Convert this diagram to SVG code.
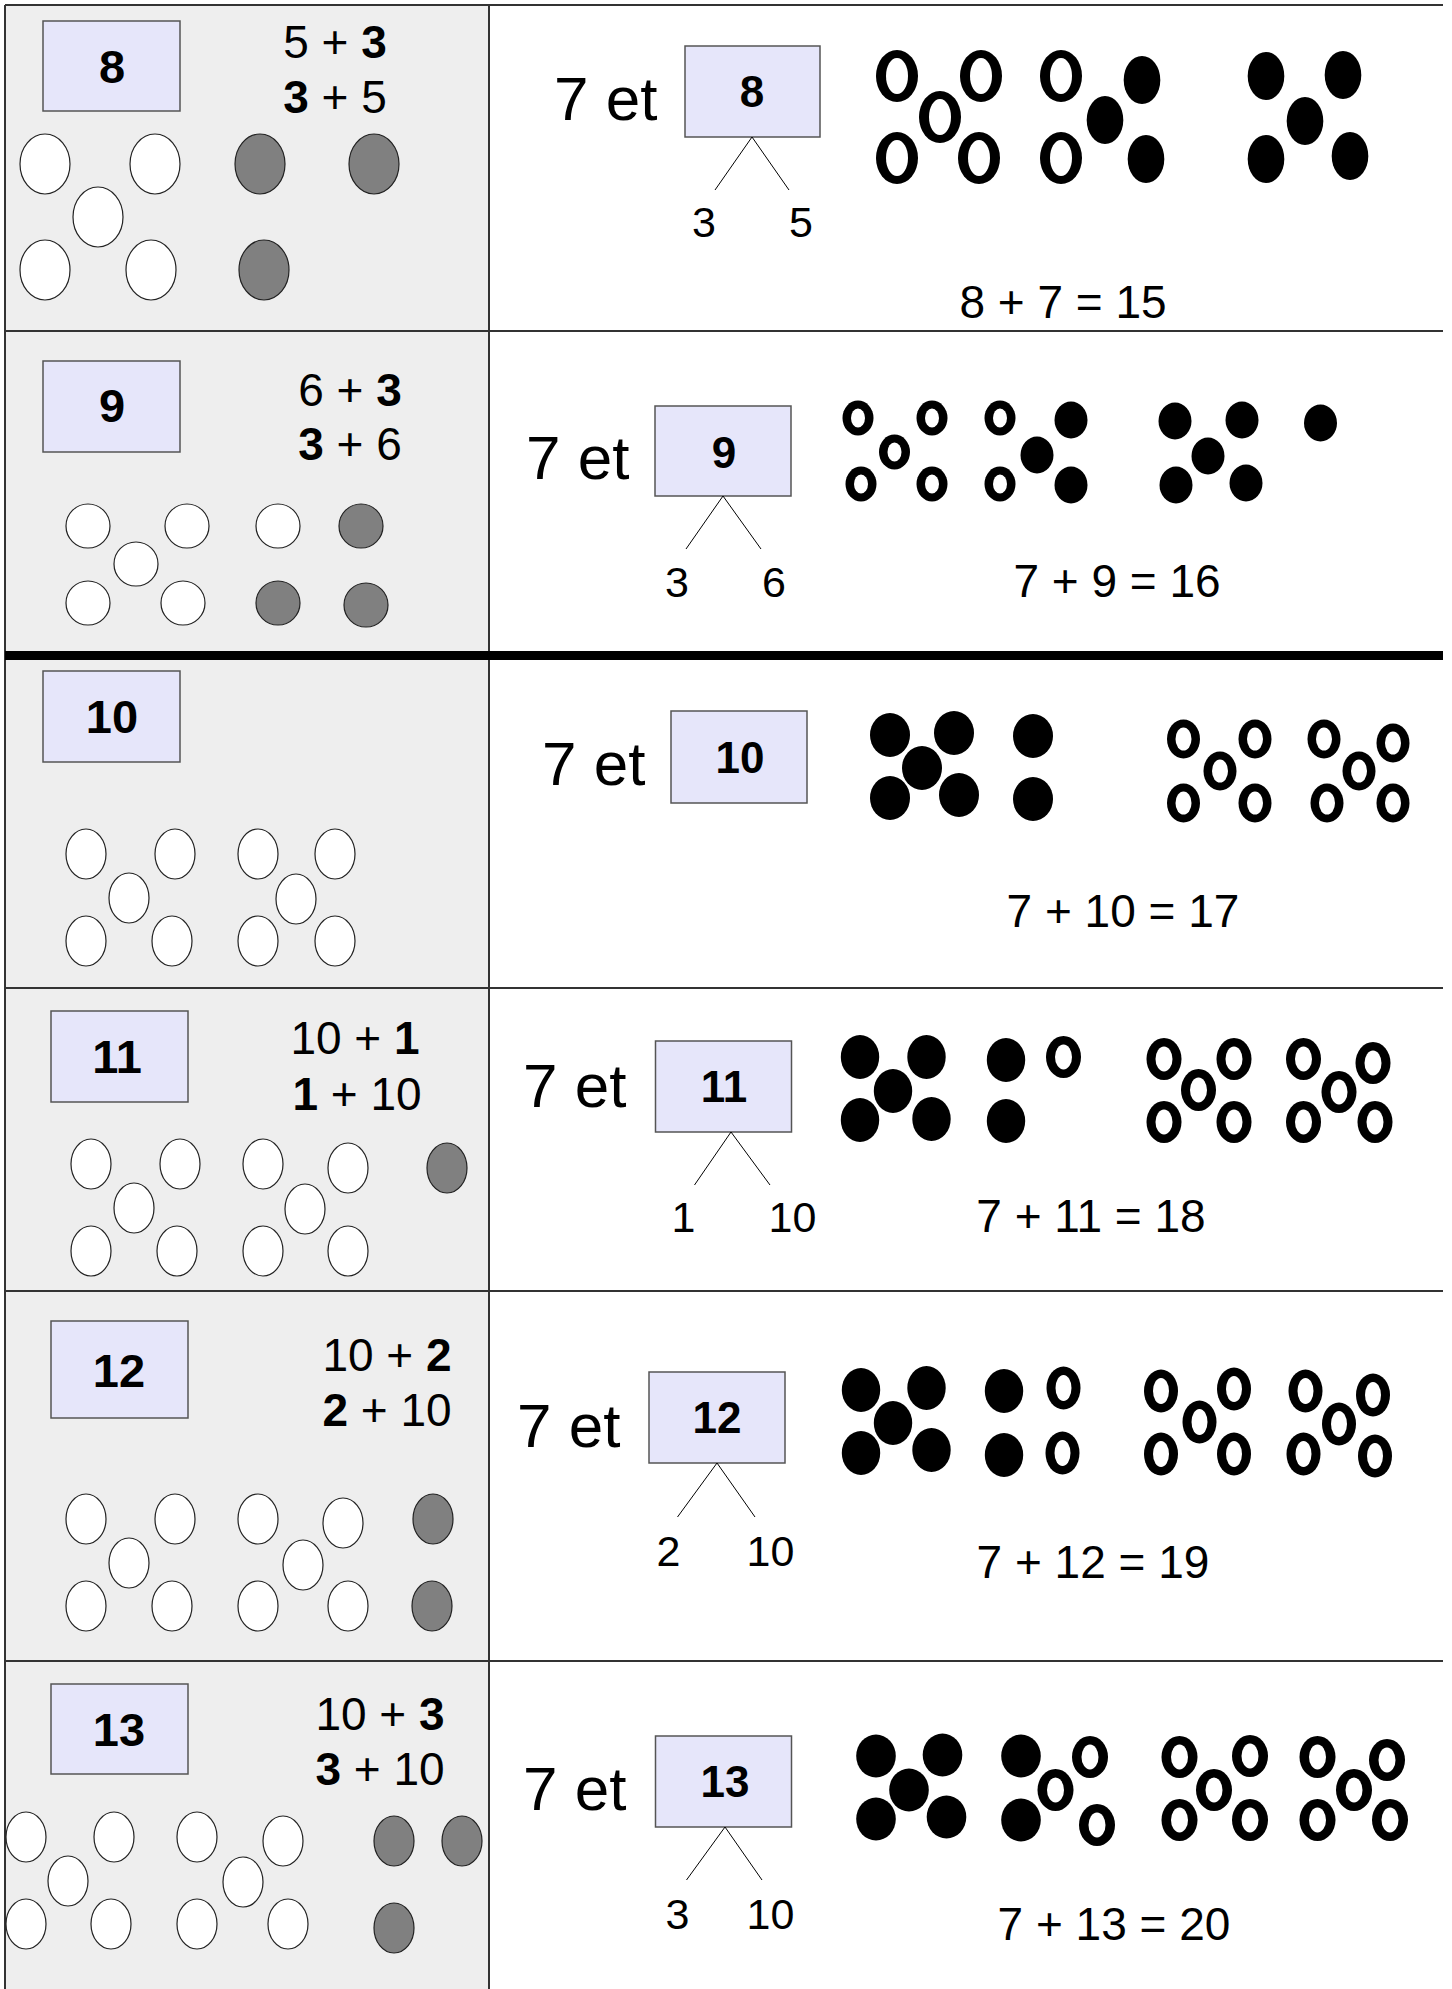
<svg xmlns="http://www.w3.org/2000/svg" width="1452" height="1989" viewBox="0 0 1452 1989">
<style>
.t{font-family:"Liberation Sans",Arial,sans-serif;fill:#000}
.bn{font-weight:bold;font-size:47px;text-anchor:middle}
.rn{font-weight:bold;font-size:44px;text-anchor:middle}
.sum{font-size:46px;text-anchor:middle}
.et{font-size:62px}
.tr{font-size:43px;text-anchor:middle}
.eq{font-size:46px;text-anchor:middle}
.b{font-weight:bold}
.box{fill:#e6e6fa;stroke:#555;stroke-width:1.5}
.w{fill:#fff;stroke:#222;stroke-width:1.2}
.g{fill:#808080;stroke:#222;stroke-width:1.2}
.k{fill:#000}
.h{fill:#fff}
.ln{stroke:#000;stroke-width:1;fill:none}
.grid{stroke:#333;stroke-width:2;fill:none}
</style>
<defs>
<g id="ring1"><ellipse class="k" rx="21" ry="26"/><ellipse class="h" rx="11" ry="18"/></g>
<g id="ring2"><ellipse class="k" rx="15.5" ry="17.5"/><ellipse class="h" rx="7" ry="9.5"/></g>
<g id="ring3"><ellipse class="k" rx="16.5" ry="19.5"/><ellipse class="h" rx="8" ry="11.5"/></g>
<g id="ring4"><ellipse class="k" rx="17.5" ry="21"/><ellipse class="h" rx="8.5" ry="12.5"/></g>
<g id="ring5"><ellipse class="k" rx="17" ry="21.5"/><ellipse class="h" rx="8" ry="13"/></g>
<g id="ring6"><ellipse class="k" rx="18" ry="21"/><ellipse class="h" rx="8.5" ry="12.5"/></g>
</defs>
<rect x="5" y="5" width="484" height="1984" fill="#eeeeee"/>
<g id="grid">
<line class="grid" x1="5" y1="5" x2="1443" y2="5"/>
<line class="grid" x1="5" y1="5" x2="5" y2="1989"/>
<line class="grid" x1="489" y1="5" x2="489" y2="1989"/>
<line class="grid" x1="5" y1="331" x2="1443" y2="331"/>
<rect x="5" y="651" width="1438" height="9" fill="#000"/>
<line class="grid" x1="5" y1="988" x2="1443" y2="988"/>
<line class="grid" x1="5" y1="1291" x2="1443" y2="1291"/>
<line class="grid" x1="5" y1="1661" x2="1443" y2="1661"/>
</g>

<!-- Row 1 -->
<g id="row1-left">
<rect class="box" x="43" y="21" width="137" height="90"/>
<text class="t bn" x="112" y="83">8</text>
<text class="t sum" x="335" y="58">5 + <tspan class="b">3</tspan></text>
<text class="t sum" x="335" y="113"><tspan class="b">3</tspan> + 5</text>
<ellipse class="w" cx="45" cy="164" rx="25" ry="30"/>
<ellipse class="w" cx="155" cy="164" rx="25" ry="30"/>
<ellipse class="w" cx="98" cy="217" rx="25" ry="30"/>
<ellipse class="w" cx="45" cy="270" rx="25" ry="30"/>
<ellipse class="w" cx="151" cy="270" rx="25" ry="30"/>
<ellipse class="g" cx="260" cy="164" rx="25" ry="30"/>
<ellipse class="g" cx="374" cy="164" rx="25" ry="30"/>
<ellipse class="g" cx="264" cy="270" rx="25" ry="30"/>
</g>
<g id="row1-right">
<text class="t et" x="554" y="120">7 et</text>
<rect class="box" x="685" y="46" width="135" height="91"/>
<text class="t rn" x="752" y="107">8</text>
<path class="ln" d="M752 137L715 190M752 137L789 190"/>
<text class="t tr" x="704" y="237">3</text>
<text class="t tr" x="801" y="237">5</text>
<text class="t eq" x="1063" y="318">8 + 7 = 15</text>
<use href="#ring1" x="897" y="76"/>
<use href="#ring1" x="981" y="76"/>
<use href="#ring1" x="940" y="117"/>
<use href="#ring1" x="897" y="158"/>
<use href="#ring1" x="979" y="158"/>
<use href="#ring1" x="1061" y="76"/>
<use href="#ring1" x="1061" y="158"/>
<g class="k">
<ellipse cx="1142" cy="80" rx="18.3" ry="24"/>
<ellipse cx="1105" cy="120" rx="18.3" ry="24"/>
<ellipse cx="1146" cy="159" rx="18.3" ry="24"/>
<ellipse cx="1266" cy="76" rx="18.3" ry="24"/>
<ellipse cx="1343" cy="75" rx="18.3" ry="24"/>
<ellipse cx="1305" cy="121" rx="18.3" ry="24"/>
<ellipse cx="1266" cy="159" rx="18.3" ry="24"/>
<ellipse cx="1350" cy="156" rx="18.3" ry="24"/>
</g>
</g>

<!-- Row 2 -->
<g id="row2-left">
<rect class="box" x="43" y="361" width="137" height="91"/>
<text class="t bn" x="112" y="422">9</text>
<text class="t sum" x="350" y="406">6 + <tspan class="b">3</tspan></text>
<text class="t sum" x="350" y="460"><tspan class="b">3</tspan> + 6</text>
<circle class="w" cx="88" cy="526" r="22"/>
<circle class="w" cx="187" cy="526" r="22"/>
<circle class="w" cx="136" cy="564" r="22"/>
<circle class="w" cx="88" cy="603" r="22"/>
<circle class="w" cx="183" cy="603" r="22"/>
<circle class="w" cx="278" cy="526" r="22"/>
<circle class="g" cx="361" cy="526" r="22"/>
<circle class="g" cx="278" cy="603" r="22"/>
<circle class="g" cx="366" cy="605" r="22"/>
</g>
<g id="row2-right">
<text class="t et" x="526" y="479">7 et</text>
<rect class="box" x="655" y="406" width="136" height="90"/>
<text class="t rn" x="724" y="468">9</text>
<path class="ln" d="M723 496L686 549M723 496L761 549"/>
<text class="t tr" x="677" y="597">3</text>
<text class="t tr" x="774" y="597">6</text>
<text class="t eq" x="1117" y="597">7 + 9 = 16</text>
<use href="#ring2" x="858" y="418"/>
<use href="#ring2" x="932" y="418"/>
<use href="#ring2" x="894.5" y="452"/>
<use href="#ring2" x="861" y="484"/>
<use href="#ring2" x="932" y="484"/>
<use href="#ring2" x="1000" y="418"/>
<use href="#ring2" x="1000" y="484"/>
<g class="k">
<ellipse cx="1071" cy="420" rx="16.5" ry="18.5"/>
<ellipse cx="1037" cy="455" rx="16.5" ry="18.5"/>
<ellipse cx="1071" cy="485" rx="16.5" ry="18.5"/>
<ellipse cx="1175" cy="421" rx="16.5" ry="18.5"/>
<ellipse cx="1242" cy="420" rx="16.5" ry="18.5"/>
<ellipse cx="1208" cy="456" rx="16.5" ry="18.5"/>
<ellipse cx="1176" cy="485" rx="16.5" ry="18.5"/>
<ellipse cx="1246" cy="483" rx="16.5" ry="18.5"/>
<ellipse cx="1320.5" cy="423" rx="16.5" ry="18.5"/>
</g>
</g>

<!-- Row 3 -->
<g id="row3-left">
<rect class="box" x="43" y="671" width="137" height="91"/>
<text class="t bn" x="112" y="733">10</text>
<g class="w">
<ellipse cx="86" cy="854" rx="20" ry="25"/>
<ellipse cx="175" cy="854" rx="20" ry="25"/>
<ellipse cx="129" cy="898" rx="20" ry="25"/>
<ellipse cx="86" cy="941" rx="20" ry="25"/>
<ellipse cx="172" cy="941" rx="20" ry="25"/>
<ellipse cx="258" cy="854" rx="20" ry="25"/>
<ellipse cx="335" cy="854" rx="20" ry="25"/>
<ellipse cx="296" cy="899" rx="20" ry="25"/>
<ellipse cx="258" cy="941" rx="20" ry="25"/>
<ellipse cx="335" cy="941" rx="20" ry="25"/>
</g>
</g>
<g id="row3-right">
<text class="t et" x="542" y="785">7 et</text>
<rect class="box" x="671" y="711" width="136" height="92"/>
<text class="t rn" x="740" y="773">10</text>
<text class="t eq" x="1123" y="927">7 + 10 = 17</text>
<g class="k">
<ellipse cx="890" cy="735" rx="20" ry="22"/>
<ellipse cx="954" cy="733" rx="20" ry="22"/>
<ellipse cx="922" cy="768" rx="20" ry="22"/>
<ellipse cx="890" cy="798" rx="20" ry="22"/>
<ellipse cx="959" cy="795" rx="20" ry="22"/>
<ellipse cx="1033" cy="736" rx="20" ry="22"/>
<ellipse cx="1033" cy="799" rx="20" ry="22"/>
</g>
<use href="#ring3" x="1183.5" y="739"/>
<use href="#ring3" x="1255" y="739"/>
<use href="#ring3" x="1220" y="771"/>
<use href="#ring3" x="1183.5" y="803"/>
<use href="#ring3" x="1255" y="803"/>
<use href="#ring3" x="1324" y="739"/>
<use href="#ring3" x="1393" y="743"/>
<use href="#ring3" x="1359" y="771"/>
<use href="#ring3" x="1327" y="803"/>
<use href="#ring3" x="1393" y="803"/>
</g>

<!-- Row 4 -->
<g id="row4-left">
<rect class="box" x="51" y="1011" width="137" height="91"/>
<text class="t bn" x="117" y="1073">11</text>
<text class="t sum" x="355" y="1054">10 + <tspan class="b">1</tspan></text>
<text class="t sum" x="357" y="1110"><tspan class="b">1</tspan> + 10</text>
<g class="w">
<ellipse cx="91" cy="1164" rx="20" ry="25"/>
<ellipse cx="180" cy="1164" rx="20" ry="25"/>
<ellipse cx="134" cy="1208" rx="20" ry="25"/>
<ellipse cx="91" cy="1251" rx="20" ry="25"/>
<ellipse cx="177" cy="1251" rx="20" ry="25"/>
<ellipse cx="263" cy="1164" rx="20" ry="25"/>
<ellipse cx="348" cy="1168" rx="20" ry="25"/>
<ellipse cx="305" cy="1209" rx="20" ry="25"/>
<ellipse cx="263" cy="1251" rx="20" ry="25"/>
<ellipse cx="348" cy="1251" rx="20" ry="25"/>
</g>
<ellipse class="g" cx="447" cy="1168" rx="20" ry="25"/>
</g>
<g id="row4-right">
<text class="t et" x="523" y="1107">7 et</text>
<rect class="box" x="655.5" y="1041" width="136" height="91"/>
<text class="t rn" x="724" y="1102">11</text>
<path class="ln" d="M731 1132L694.5 1185M731 1132L770 1185"/>
<text class="t tr" x="683.5" y="1232">1</text>
<text class="t tr" x="792.5" y="1232">10</text>
<text class="t eq" x="1091" y="1232">7 + 11 = 18</text>
<g class="k">
<ellipse cx="860" cy="1057" rx="19.2" ry="22"/>
<ellipse cx="926.5" cy="1057" rx="19.2" ry="22"/>
<ellipse cx="893" cy="1091" rx="19.2" ry="22"/>
<ellipse cx="860" cy="1120" rx="19.2" ry="22"/>
<ellipse cx="931.5" cy="1119" rx="19.2" ry="22"/>
<ellipse cx="1006" cy="1060" rx="19.2" ry="22"/>
<ellipse cx="1006" cy="1121" rx="19.2" ry="22"/>
</g>
<use href="#ring4" x="1063.5" y="1057"/>
<use href="#ring4" x="1164" y="1059"/>
<use href="#ring4" x="1234" y="1059"/>
<use href="#ring4" x="1198.5" y="1090"/>
<use href="#ring4" x="1164" y="1122"/>
<use href="#ring4" x="1234" y="1122"/>
<use href="#ring4" x="1303.5" y="1059"/>
<use href="#ring4" x="1373" y="1063"/>
<use href="#ring4" x="1339" y="1092"/>
<use href="#ring4" x="1303.5" y="1122"/>
<use href="#ring4" x="1375" y="1122"/>
</g>

<!-- Row 5 -->
<g id="row5-left">
<rect class="box" x="51" y="1321" width="137" height="97"/>
<text class="t bn" x="119" y="1387">12</text>
<text class="t sum" x="387" y="1371">10 + <tspan class="b">2</tspan></text>
<text class="t sum" x="387" y="1426"><tspan class="b">2</tspan> + 10</text>
<g class="w">
<ellipse cx="86" cy="1519" rx="20" ry="25"/>
<ellipse cx="175" cy="1519" rx="20" ry="25"/>
<ellipse cx="129" cy="1563" rx="20" ry="25"/>
<ellipse cx="86" cy="1606" rx="20" ry="25"/>
<ellipse cx="172" cy="1606" rx="20" ry="25"/>
<ellipse cx="258" cy="1519" rx="20" ry="25"/>
<ellipse cx="343" cy="1523" rx="20" ry="25"/>
<ellipse cx="303" cy="1565" rx="20" ry="25"/>
<ellipse cx="258" cy="1606" rx="20" ry="25"/>
<ellipse cx="348" cy="1606" rx="20" ry="25"/>
</g>
<ellipse class="g" cx="433" cy="1519" rx="20" ry="25"/>
<ellipse class="g" cx="432" cy="1606" rx="20" ry="25"/>
</g>
<g id="row5-right">
<text class="t et" x="517" y="1447">7 et</text>
<rect class="box" x="649" y="1372" width="136" height="91"/>
<text class="t rn" x="717" y="1433">12</text>
<path class="ln" d="M717 1463L677.5 1517M717 1463L755 1517"/>
<text class="t tr" x="668.5" y="1566">2</text>
<text class="t tr" x="770.5" y="1566">10</text>
<text class="t eq" x="1093" y="1578">7 + 12 = 19</text>
<g class="k">
<ellipse cx="861" cy="1390" rx="19.2" ry="22"/>
<ellipse cx="926.5" cy="1388" rx="19.2" ry="22"/>
<ellipse cx="893" cy="1423" rx="19.2" ry="22"/>
<ellipse cx="861" cy="1453" rx="19.2" ry="22"/>
<ellipse cx="931.5" cy="1450" rx="19.2" ry="22"/>
<ellipse cx="1004" cy="1391" rx="19.2" ry="22"/>
<ellipse cx="1004" cy="1455" rx="19.2" ry="22"/>
</g>
<use href="#ring5" x="1063.5" y="1388"/>
<use href="#ring5" x="1062.5" y="1453"/>
<use href="#ring5" x="1161" y="1391"/>
<use href="#ring5" x="1234" y="1389"/>
<use href="#ring5" x="1199.5" y="1422"/>
<use href="#ring5" x="1161" y="1454"/>
<use href="#ring5" x="1234" y="1454"/>
<use href="#ring5" x="1305.5" y="1391"/>
<use href="#ring5" x="1373" y="1395"/>
<use href="#ring5" x="1339" y="1424"/>
<use href="#ring5" x="1303.5" y="1454"/>
<use href="#ring5" x="1375" y="1456"/>
</g>

<!-- Row 6 -->
<g id="row6-left">
<rect class="box" x="51" y="1684" width="137" height="90"/>
<text class="t bn" x="119" y="1746">13</text>
<text class="t sum" x="380" y="1730">10 + <tspan class="b">3</tspan></text>
<text class="t sum" x="380" y="1785"><tspan class="b">3</tspan> + 10</text>
<g class="w">
<ellipse cx="26" cy="1837" rx="20" ry="25"/>
<ellipse cx="114" cy="1837" rx="20" ry="25"/>
<ellipse cx="68" cy="1881" rx="20" ry="25"/>
<ellipse cx="26" cy="1924" rx="20" ry="25"/>
<ellipse cx="111" cy="1924" rx="20" ry="25"/>
<ellipse cx="197" cy="1837" rx="20" ry="25"/>
<ellipse cx="283" cy="1841" rx="20" ry="25"/>
<ellipse cx="243" cy="1882" rx="20" ry="25"/>
<ellipse cx="197" cy="1924" rx="20" ry="25"/>
<ellipse cx="288" cy="1924" rx="20" ry="25"/>
</g>
<ellipse class="g" cx="394" cy="1841" rx="20" ry="25"/>
<ellipse class="g" cx="462" cy="1841" rx="20" ry="25"/>
<ellipse class="g" cx="394" cy="1928" rx="20" ry="25"/>
</g>
<g id="row6-right">
<text class="t et" x="523" y="1810">7 et</text>
<rect class="box" x="655.5" y="1736" width="136" height="91"/>
<text class="t rn" x="725" y="1797">13</text>
<path class="ln" d="M725 1827L686.5 1880M725 1827L762 1880"/>
<text class="t tr" x="677.5" y="1929">3</text>
<text class="t tr" x="770.5" y="1929">10</text>
<text class="t eq" x="1114" y="1940">7 + 13 = 20</text>
<g class="k">
<ellipse cx="876" cy="1756" rx="19.8" ry="21.5"/>
<ellipse cx="942.5" cy="1755" rx="19.8" ry="21.5"/>
<ellipse cx="909" cy="1790" rx="19.8" ry="21.5"/>
<ellipse cx="876" cy="1819" rx="19.8" ry="21.5"/>
<ellipse cx="946.5" cy="1817" rx="19.8" ry="21.5"/>
<ellipse cx="1021" cy="1756" rx="19.8" ry="21.5"/>
<ellipse cx="1021" cy="1820" rx="19.8" ry="21.5"/>
</g>
<use href="#ring6" x="1090" y="1757"/>
<use href="#ring6" x="1055.5" y="1790"/>
<use href="#ring6" x="1097" y="1825"/>
<use href="#ring6" x="1179.5" y="1757"/>
<use href="#ring6" x="1250" y="1756"/>
<use href="#ring6" x="1214" y="1790"/>
<use href="#ring6" x="1179.5" y="1820"/>
<use href="#ring6" x="1250" y="1820"/>
<use href="#ring6" x="1317.5" y="1757"/>
<use href="#ring6" x="1387" y="1760"/>
<use href="#ring6" x="1354" y="1790"/>
<use href="#ring6" x="1317.5" y="1820"/>
<use href="#ring6" x="1390" y="1820"/>
</g>
</svg>
